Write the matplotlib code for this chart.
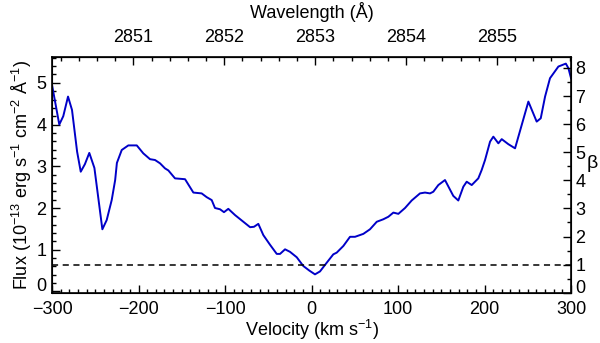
import matplotlib
matplotlib.use("Agg")
import matplotlib.pyplot as plt
from matplotlib.ticker import MultipleLocator
import numpy as np

plt.rcParams['font.family'] = ['Liberation Sans', 'DejaVu Sans']
plt.rcParams['mathtext.fontset'] = 'custom'
plt.rcParams['mathtext.rm'] = 'Liberation Sans'
plt.rcParams['mathtext.it'] = 'Liberation Sans'

velocity = [-300, -291.6, -287, -281.5, -276.9, -271, -266.8, -262, -256.9, -251,
            -241.8, -236.8, -231, -227, -225, -219.4, -211.8, -202, -194.5, -186.7,
            -180.9, -175.1, -169.4, -165.5, -157.8, -146.2, -136.6, -127, -121.2,
            -115.4, -111.6, -105.8, -101.2, -96.2, -88.4, -78.8, -71, -66.5, -61.5,
            -55.7, -48, -40.2, -36.4, -30.6, -24.9, -17.1, -9.5, -2.5, 4.0, 9.8,
            17.6, 25.2, 29.1, 36.8, 44.5, 50.3, 59.9, 67.6, 75.4, 83.0, 88.8, 94.6,
            100.4, 108.1, 115.8, 125.4, 131.2, 137, 140.8, 146.6, 154.3, 163.9,
            169.7, 175.5, 179.4, 185.2, 192.8, 196.7, 200.6, 206.4, 210.2, 216,
            219.9, 227.5, 235.3, 243, 250.7, 260.3, 265, 270, 275.7, 285.4, 294,
            297, 300]
flux = [4.95, 4.0, 4.2, 4.67, 4.35, 3.35, 2.87, 3.05, 3.32, 2.96,
        1.49, 1.71, 2.19, 2.67, 3.08, 3.39, 3.50, 3.50, 3.31, 3.17,
        3.15, 3.07, 2.95, 2.90, 2.71, 2.69, 2.37, 2.35, 2.26,
        2.19, 2.0, 1.97, 1.90, 1.98, 1.83, 1.67, 1.54, 1.55, 1.62,
        1.35, 1.12, 0.90, 0.90, 1.01, 0.95, 0.82, 0.61, 0.50, 0.41, 0.48,
        0.69, 0.89, 0.93, 1.09, 1.31, 1.31, 1.38, 1.49, 1.67, 1.73, 1.79, 1.89,
        1.86, 2.0, 2.18, 2.35, 2.37, 2.35, 2.39, 2.55, 2.67, 2.29,
        2.18, 2.51, 2.63, 2.55, 2.71, 2.91, 3.15, 3.59, 3.71, 3.55,
        3.65, 3.53, 3.43, 3.99, 4.55, 4.07, 4.15, 4.67, 5.11, 5.39, 5.46,
        5.35, 5.11]

beta_level = 1.0
lambda0 = 2852.96
c_kms = 299792.458
wave_ticks = [2851, 2852, 2853, 2854, 2855]
vel_ticks = [-300, -200, -100, 0, 100, 200, 300]

FS = 13

fig = plt.figure(figsize=(6.0, 3.43), dpi=100)
ax = fig.add_axes([0.0867, 0.1466, 0.865, 0.6874])
ax.plot(velocity, flux, color='#0000C8', lw=1.4)
ax.set_xlim(-300, 300)
ax.set_ylim(-0.03, 5.62)

ax.set_xticks(vel_ticks)
ax.set_xticklabels([str(v).replace('-', '\u2212') for v in vel_ticks])
ax.xaxis.set_minor_locator(MultipleLocator(10))
ax.yaxis.set_major_locator(MultipleLocator(1))
ax.yaxis.set_minor_locator(MultipleLocator(0.2))
ax.tick_params(axis='both', which='major', direction='in', length=6, width=1.0, labelsize=FS)
ax.tick_params(axis='both', which='minor', direction='in', length=3, width=1.0)
ax.tick_params(axis='x', pad=6)
ax.tick_params(axis='y', pad=4)
for s in ax.spines.values():
    s.set_linewidth(1.2)
ax.set_xlabel('Velocity (km s$^{-1}$)', fontsize=FS, labelpad=0)
ax.set_ylabel('Flux (10$^{-13}$ erg s$^{-1}$ cm$^{-2}$ \u00c5$^{-1}$)', fontsize=FS, labelpad=2)

# right beta axis
ax2 = ax.twinx()
ax2.set_ylim(0, 8.39)
ax2.axhline(beta_level, color='black', ls=(0, (4, 3)), lw=1.1)
ax2.yaxis.set_major_locator(MultipleLocator(1))
ax2.yaxis.set_minor_locator(MultipleLocator(0.5))
ax2.tick_params(axis='y', which='major', direction='in', length=6, width=1.0, labelsize=FS, pad=3)
ax2.tick_params(axis='y', which='minor', direction='in', length=3, width=1.0)
ax2.set_ylabel('\u03b2', fontsize=FS + 1, rotation=0, va='center', ha='center')
ax2.yaxis.set_label_coords(1.04, 0.55)

# top wavelength axis
def v2l(v):
    return lambda0 * (1 + np.asarray(v) / c_kms)

def l2v(l):
    return (np.asarray(l) / lambda0 - 1) * c_kms

top = ax.secondary_xaxis('top', functions=(v2l, l2v))
top.set_xticks(wave_ticks)
top.set_xticklabels([str(w) for w in wave_ticks])
top.xaxis.set_minor_locator(MultipleLocator(0.2))
top.tick_params(axis='x', which='major', direction='in', length=6, width=1.0, labelsize=FS, pad=8)
top.tick_params(axis='x', which='minor', direction='in', length=3, width=1.0)
top.set_xlabel('Wavelength (\u00c5)', fontsize=FS, labelpad=8)

fig.canvas.draw()
for a in (ax, ax2):
    for lab in a.get_yticklabels():
        if lab.get_text() == '0':
            lab.set_verticalalignment('baseline')

fig.savefig('out.png', dpi=100)
